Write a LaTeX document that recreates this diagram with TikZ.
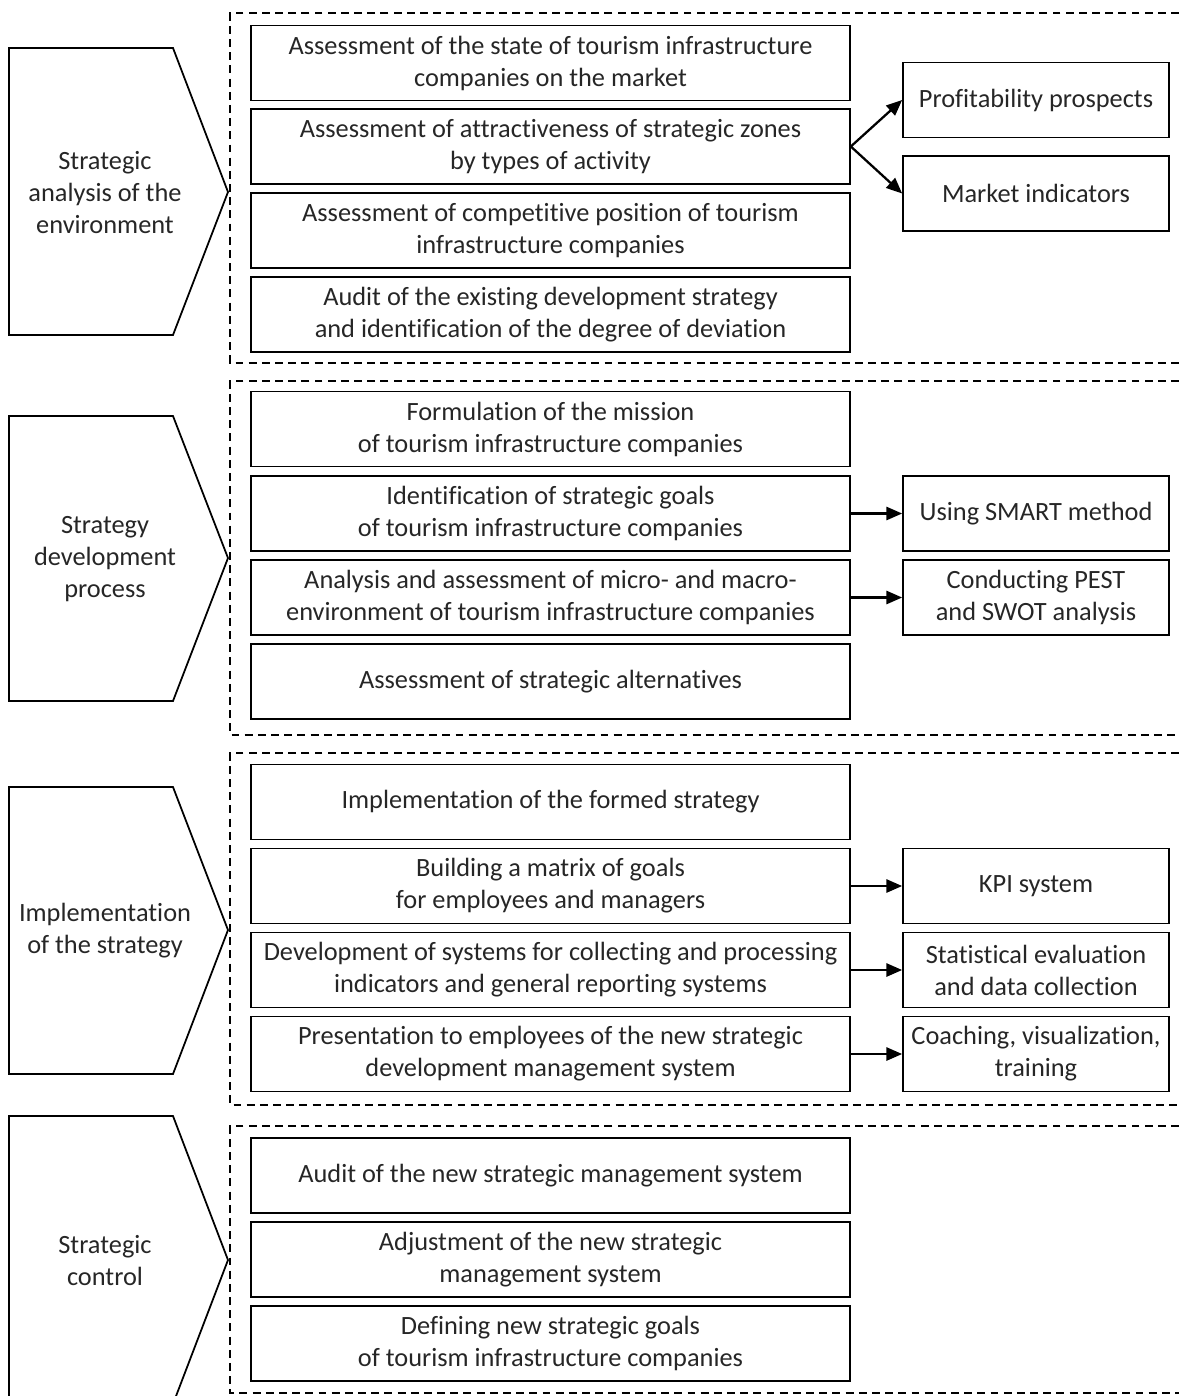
\documentclass[tikz,border=0pt]{standalone}
\usepackage{fontspec}
\setmainfont{Carlito}[Ligatures=NoCommon]
\usetikzlibrary{arrows.meta, positioning}

\begin{document}
\begin{tikzpicture}[x=0.02cm, y=-0.02cm, font=\fontsize{15pt}{18.2pt}\selectfont, text=black!85,
  stepbox/.style={shape=rectangle, minimum height=1.5cm, minimum width=11.98cm, draw=black, line width=1pt, align=center, inner sep=0pt},
  sidebox/.style={shape=rectangle, minimum height=1.5cm, minimum width=5.32cm, draw=black, line width=1pt, align=center, inner sep=0pt},
  frame/.style={dash pattern=on 4.5pt off 3pt, line width=0.85pt},
  chev/.style={draw=black, line width=1pt},
  link/.style={line width=1.3pt, -{Triangle[length=9pt, width=7.5pt]}}]
\useasboundingbox (0,0) rectangle (1179,1396);
\clip (0,0) rectangle (1179,1396);
%stage 1
\draw[chev] (9,48) -- (173,48) -- (228,192) -- (173,335) -- (9,335) -- cycle;
\node[align=center] (st1) at (105,193) {Strategic\\analysis of the\\environment};
\draw[frame] (1179,13) -- (230,13) -- (230,363) -- (1179,363);
\node[stepbox] (a1) at (550.5,63) {Assessment of the state of tourism infrastructure\\companies on the market};
\node[stepbox] (a2) at (550.5,146.5) {Assessment of attractiveness of strategic zones\\by types of activity};
\node[stepbox] (a3) at (550.5,230.5) {Assessment of competitive position of tourism\\infrastructure companies};
\node[stepbox] (a4) at (550.5,314.5) {Audit of the existing development strategy\\and identification of the degree of deviation};
\node[sidebox] (p1) at (1036,100) {Profitability prospects};
\node[sidebox] (p2) at (1036,193.5) {Market indicators};
\draw[link] (a2.east) -- (p1.west);
\draw[link] (a2.east) -- (p2.west);
%stage 2
\draw[chev] (9,416) -- (173,416) -- (228,558) -- (173,701) -- (9,701) -- cycle;
\node[align=center] (st2) at (105,559) {Strategy\\development\\process};
\draw[frame] (1179,381) -- (230,381) -- (230,735) -- (1179,735);
\node[stepbox] (b1) at (550.5,429) {Formulation of the mission\\of tourism infrastructure companies};
\node[stepbox] (b2) at (550.5,513.5) {Identification of strategic goals\\of tourism infrastructure companies};
\node[stepbox] (b3) at (550.5,597.5) {Analysis and assessment of micro- and macro-\\environment of tourism infrastructure companies};
\node[stepbox] (b4) at (550.5,681.5) {Assessment of strategic alternatives};
\node[sidebox] (q1) at (1036,513.5) {Using SMART method};
\node[sidebox] (q2) at (1036,597.5) {Conducting PEST\\and SWOT analysis};
\draw[link] (b2.east) -- (q1.west);
\draw[link] (b3.east) -- (q2.west);
%stage 3
\draw[chev] (9,787) -- (173,787) -- (228,930) -- (173,1074) -- (9,1074) -- cycle;
\node[align=center] (st3) at (105,931) {Implementation\\of the strategy};
\draw[frame] (1179,753) -- (230,753) -- (230,1105) -- (1179,1105);
\node[stepbox] (c1) at (550.5,802) {Implementation of the formed strategy};
\node[stepbox] (c2) at (550.5,886) {Building a matrix of goals\\for employees and managers};
\node[stepbox] (c3) at (550.5,970) {Development of systems for collecting and processing\\indicators and general reporting systems};
\node[stepbox] (c4) at (550.5,1054) {Presentation to employees of the new strategic\\development management system};
\node[sidebox] (r1) at (1036,886) {KPI system};
\node[sidebox] (r2) at (1036,970) {Statistical evaluation\\and data collection};
\node[sidebox] (r3) at (1036,1054) {Coaching, visualization,\\training};
\draw[link] (c2.east) -- (r1.west);
\draw[link] (c3.east) -- (r2.west);
\draw[link] (c4.east) -- (r3.west);
%stage 4
\draw[chev] (9,1116) -- (173,1116) -- (228,1260) -- (173,1404) -- (9,1404) -- cycle;
\node[align=center] (st4) at (105,1261) {Strategic\\control};
\draw[frame] (1179,1126) -- (230,1126) -- (230,1393) -- (1179,1393);
\node[stepbox] (d1) at (550.5,1175.5) {Audit of the new strategic management system};
\node[stepbox] (d2) at (550.5,1259.5) {Adjustment of the new strategic\\management system};
\node[stepbox] (d3) at (550.5,1343.5) {Defining new strategic goals\\of tourism infrastructure companies};
\end{tikzpicture}
\end{document}
